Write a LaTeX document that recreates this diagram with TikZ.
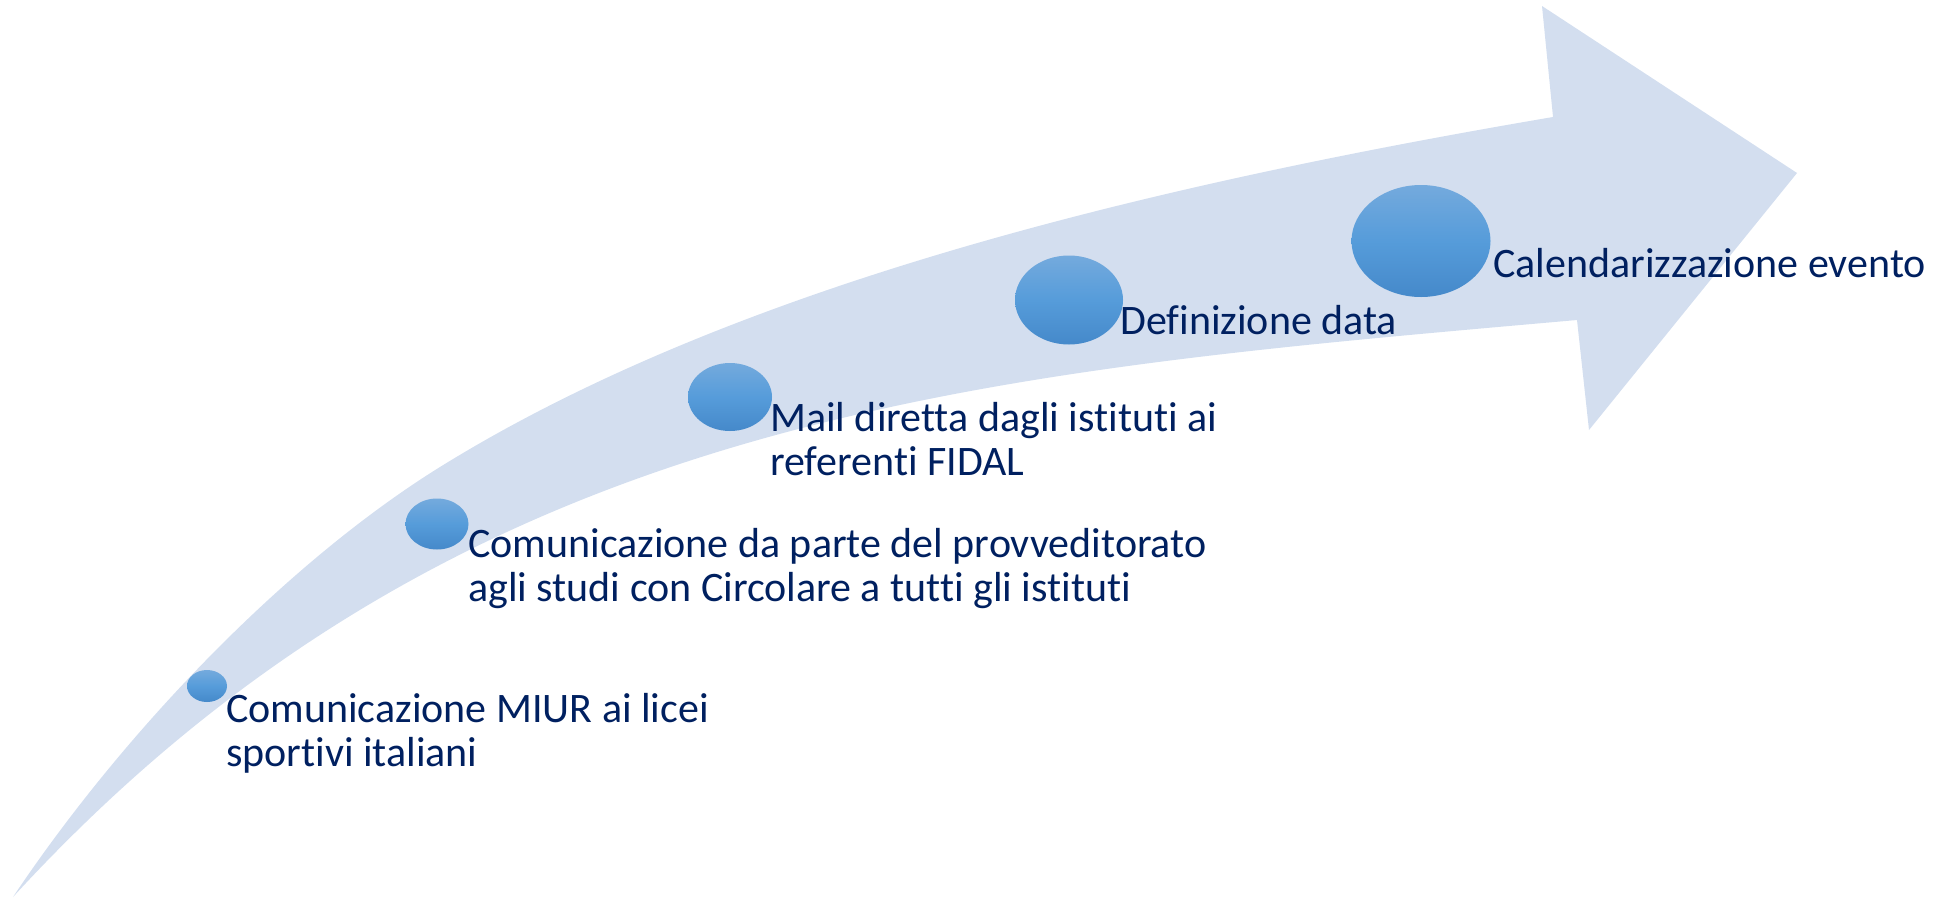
\documentclass[tikz,border=0pt]{standalone}
\usepackage{fontspec}
\setmainfont{Carlito}[Ligatures={NoCommon,NoContextual}]
\usetikzlibrary{shapes.geometric}
\definecolor{arrowfill}{RGB}{211,222,239}
\definecolor{navy}{RGB}{0,32,96}
\definecolor{dottop}{RGB}{116,170,221}
\definecolor{dotmid}{RGB}{86,156,218}
\definecolor{dotbot}{RGB}{69,137,202}
\begin{document}
\begin{tikzpicture}[x=1pt,y=-1pt,
  dot/.style={ellipse, inner sep=0pt, draw=none, top color=dottop, bottom color=dotbot, middle color=dotmid},
  lbl/.style={anchor=base west, inner sep=0pt, text=navy, align=left, font=\fontsize{42}{44}\selectfont}]
\useasboundingbox (0,0) rectangle (1953,897);
\fill[arrowfill] (13,897) .. controls (124,731) and (287,562) .. (440,467)
  .. controls (737.5,282.6) and (1159,184) .. (1553,117)
  -- (1542,6) -- (1797,173) -- (1589,430) -- (1577,320)
  .. controls (978,373) and (460,410) .. cycle;
\node[dot, minimum width=40pt, minimum height=32pt] (c1) at (207,686) {};
\node[dot, minimum width=63pt, minimum height=51pt] (c2) at (437,524) {};
\node[dot, minimum width=84pt, minimum height=68pt] (c3) at (730,397) {};
\node[dot, minimum width=108pt, minimum height=89pt] (c4) at (1069,300) {};
\node[dot, minimum width=139pt, minimum height=112pt] (c5) at (1421,241) {};
\node[lbl] (t1) at (226,766) {Comunicazione MIUR ai licei\\sportivi italiani};
\node[lbl] (t2) at (468,601) {Comunicazione da parte del provveditorato\\agli studi con Circolare a tutti gli istituti};
\node[lbl] (t3) at (770,475) {Mail diretta dagli istituti ai\\referenti FIDAL};
\node[lbl] (t4) at (1120,334) {Definizione data};
\node[lbl] (t5) at (1493,277) {Calendarizzazione evento};
\end{tikzpicture}
\end{document}
